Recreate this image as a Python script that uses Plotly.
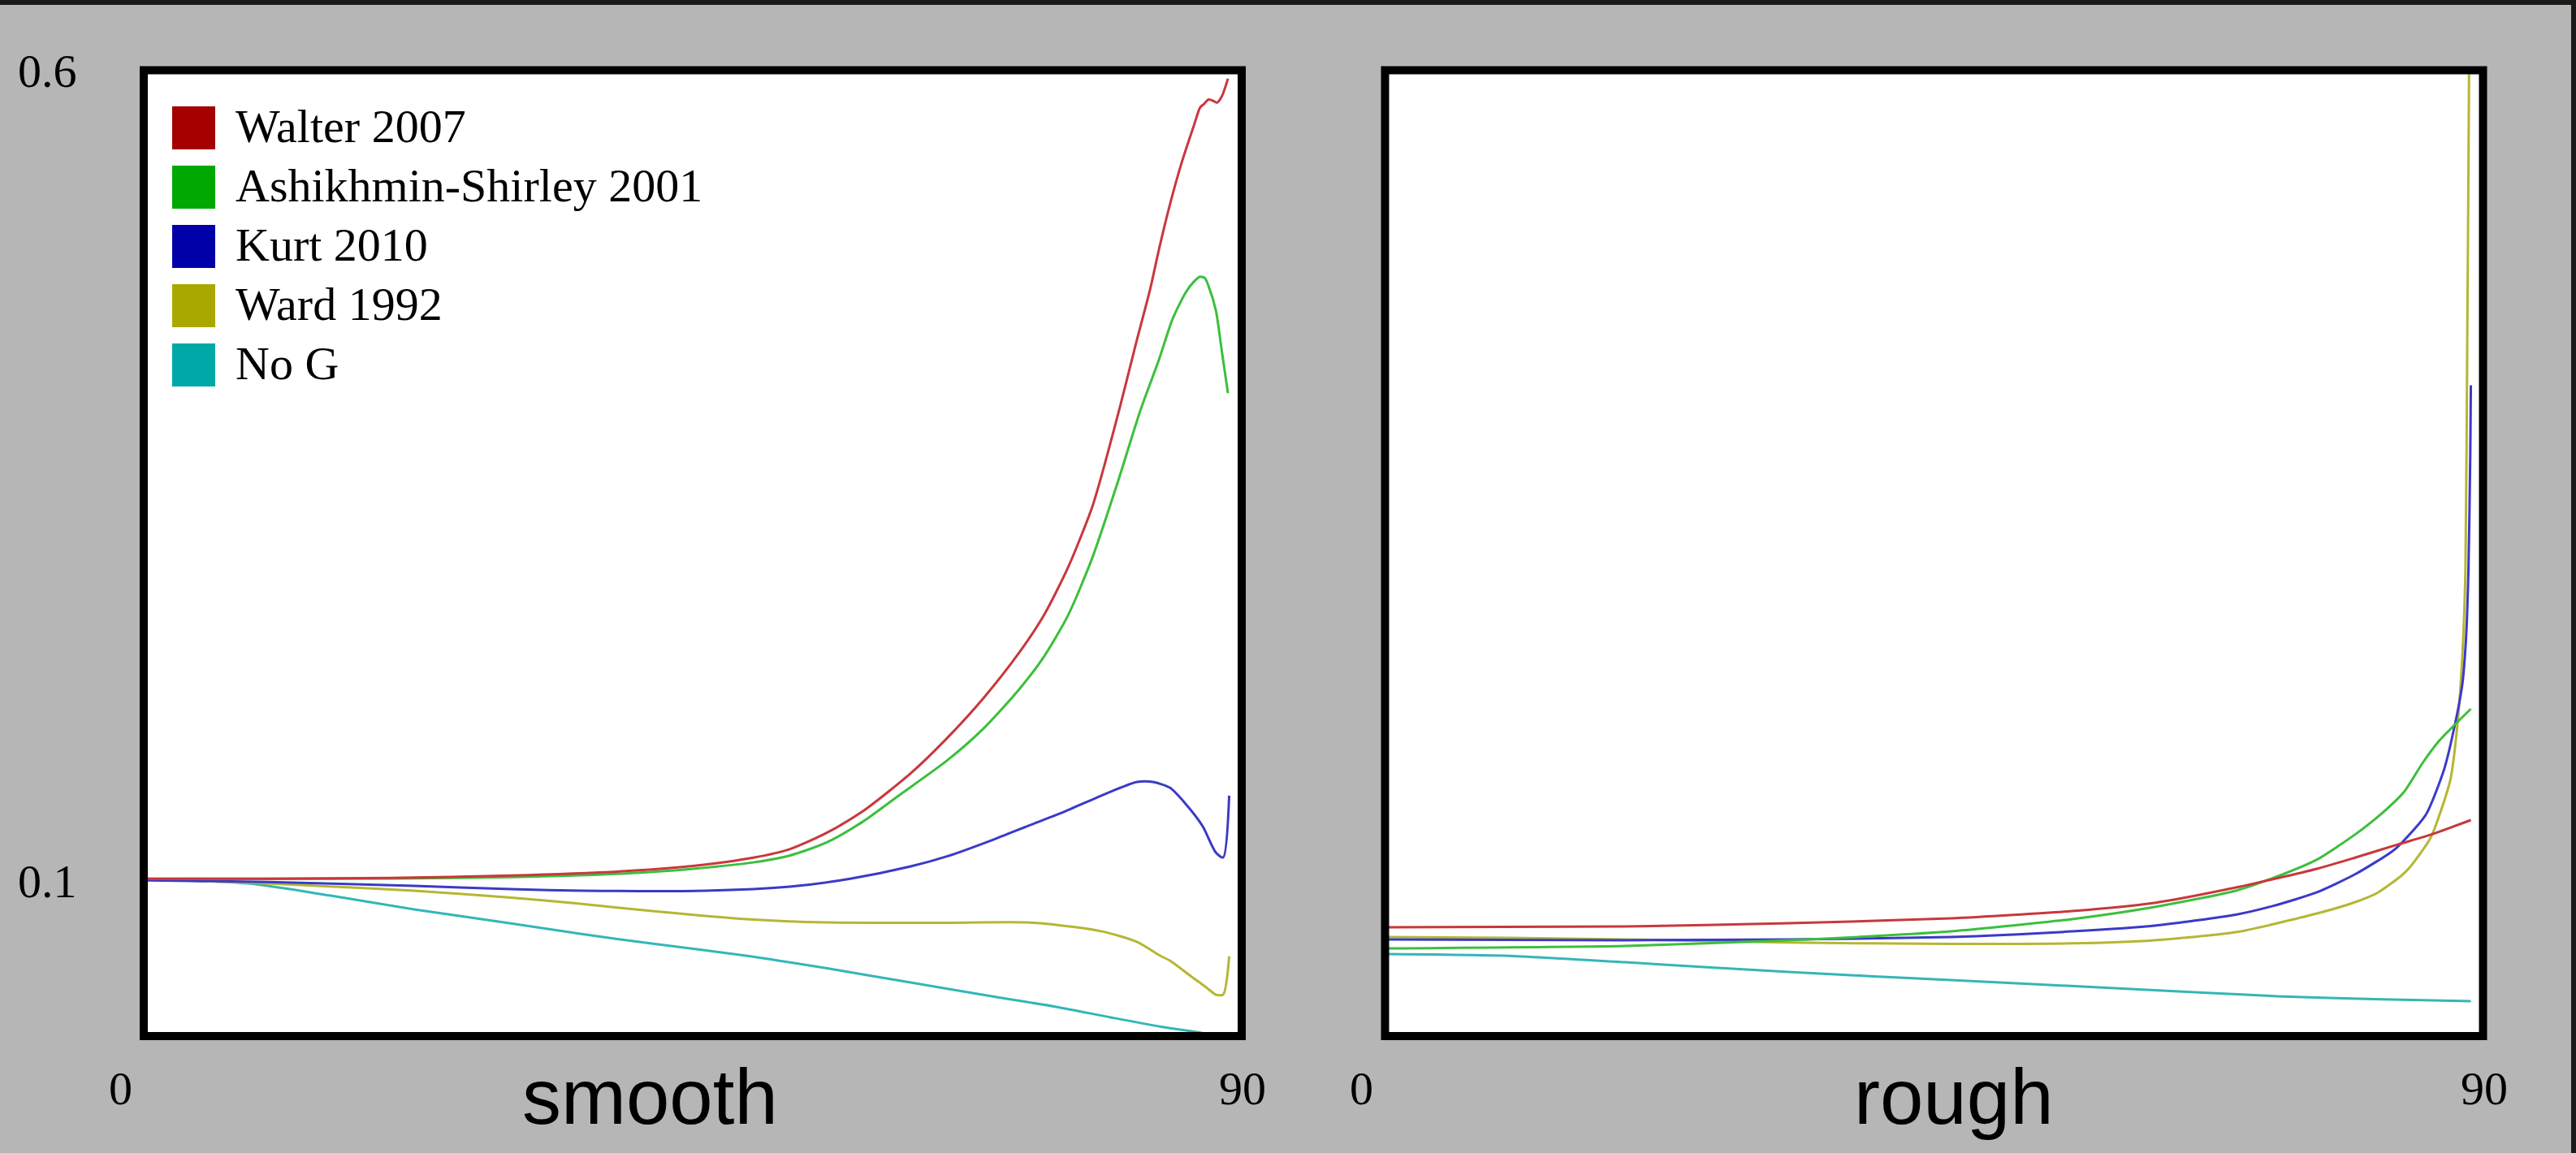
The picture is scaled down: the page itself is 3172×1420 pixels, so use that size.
import plotly.graph_objects as go

# ---------------- data ----------------
series_names = ["Walter 2007", "Ashikhmin-Shirley 2001", "Kurt 2010", "Ward 1992", "No G"]
swatch_colors = ["#a40000", "#00a800", "#0000a8", "#a8a800", "#00a8a8"]
line_colors = ["#c8383c", "#3cbf3c", "#3a3ac8", "#b6b634", "#34b6b6"]
panel_titles = ["smooth", "rough"]
x_tick_labels = ["0", "90"]
y_tick_labels = ["0.6", "0.1"]

# smooth panel
smooth_walter_x = [0, 10, 20, 30, 40, 45, 50, 53, 56, 59, 63, 66, 69, 72, 74, 76, 78, 79, 80.3, 81.7, 82.8, 83.5, 84.4, 85.4, 86.4, 86.9, 87.2, 87.6, 88.0, 88.3, 88.7, 89.2]
smooth_walter_y = [0.096, 0.096, 0.0965, 0.098, 0.101, 0.104, 0.1092, 0.1145, 0.1245, 0.138, 0.162, 0.184, 0.209, 0.238, 0.261, 0.291, 0.329, 0.355, 0.392, 0.434, 0.466, 0.490, 0.518, 0.545, 0.568, 0.579, 0.581, 0.584, 0.583, 0.582, 0.586, 0.597]

smooth_ashikhmin_x = [0, 10, 20, 30, 40, 45, 50, 53, 56, 59, 62, 66, 69, 72, 74, 76, 78, 80, 82, 83.5, 84.6, 85.7, 86.4, 86.9, 87.3, 87.6, 88.2, 88.7, 89.2]
smooth_ashikhmin_y = [0.096, 0.096, 0.0961, 0.097, 0.0995, 0.1022, 0.1062, 0.1105, 0.1185, 0.1315, 0.148, 0.170, 0.190, 0.215, 0.235, 0.261, 0.297, 0.342, 0.390, 0.421, 0.446, 0.463, 0.470, 0.473, 0.472, 0.467, 0.452, 0.426, 0.400]

smooth_kurt_x = [0, 10, 22, 30, 36, 46, 53, 58, 63, 66, 70, 73, 75.7, 79.5, 81.7, 83.0, 84.4, 85.7, 87.1, 88.2, 88.8, 89.3]
smooth_kurt_y = [0.095, 0.094, 0.0915, 0.0895, 0.0885, 0.0885, 0.091, 0.096, 0.1037, 0.110, 0.121, 0.130, 0.138, 0.1505, 0.1566, 0.1566, 0.153, 0.1429, 0.129, 0.1124, 0.1093, 0.148]

smooth_ward_x = [0, 8.3, 15, 22, 30, 35.7, 42, 49.4, 56.2, 65, 72.6, 75, 78.8, 81.7, 83.6, 84.4, 86.2, 87.4, 88.2, 88.8, 89.3]
smooth_ward_y = [0.0956, 0.0936, 0.0912, 0.0885, 0.0842, 0.0803, 0.0755, 0.0707, 0.0686, 0.0684, 0.0686, 0.0671, 0.063, 0.0564, 0.0478, 0.0447, 0.0346, 0.028, 0.0234, 0.0234, 0.0473]

smooth_nog_x = [0, 8.3, 15, 22, 30, 35.7, 42, 49.4, 56, 63, 70, 75, 79.5, 83.9, 86.6, 89.2]
smooth_nog_y = [0.0956, 0.093, 0.0855, 0.0768, 0.068, 0.0615, 0.055, 0.0478, 0.040, 0.031, 0.022, 0.0158, 0.0092, 0.003, 0.0, -0.004]

# rough panel
rough_walter_x = [0, 19.5, 33, 46.4, 56.4, 63.2, 69.9, 76.6, 79.8, 83.3, 86.0, 89.3]
rough_walter_y = [0.0656, 0.0661, 0.0681, 0.0712, 0.0758, 0.0809, 0.0905, 0.1022, 0.1093, 0.1175, 0.1236, 0.1327]

rough_ashikhmin_x = [0, 19.5, 33, 46.4, 56.4, 63.2, 69.9, 73, 76.6, 79.8, 82.0, 83.8, 85.3, 86.7, 88.0, 89.3]
rough_ashikhmin_y = [0.0524, 0.0539, 0.0575, 0.063, 0.0707, 0.0783, 0.0885, 0.0965, 0.1080, 0.1240, 0.1372, 0.1505, 0.1683, 0.1825, 0.1927, 0.2024]

rough_kurt_x = [0, 19.5, 33, 46.4, 56.4, 63.2, 69.9, 73, 76.6, 79.8, 83.1, 85.6, 87.1, 88.0, 88.6, 88.9, 89.1, 89.25, 89.3]
rough_kurt_y = [0.058, 0.0575, 0.058, 0.0595, 0.063, 0.0666, 0.0735, 0.079, 0.0875, 0.0990, 0.1149, 0.1363, 0.1647, 0.1932, 0.2181, 0.2466, 0.2893, 0.361, 0.405]

rough_ward_x = [0, 10, 19.5, 33, 46.4, 56.4, 63.2, 69.9, 76.6, 80, 81.6, 83.5, 84.3, 86.0, 87.6, 88.2, 88.6, 88.85, 89.0, 89.15, 89.3]
rough_ward_y = [0.0595, 0.059, 0.058, 0.056, 0.0552, 0.0555, 0.0575, 0.0625, 0.0742, 0.0820, 0.0872, 0.0975, 0.1035, 0.1220, 0.1577, 0.1932, 0.2359, 0.2893, 0.4322, 0.60, 0.90]

rough_nog_x = [0, 9.5, 19.5, 33, 46.4, 59.9, 73.3, 82, 89.3]
rough_nog_y = [0.0488, 0.0478, 0.0437, 0.0376, 0.0325, 0.0275, 0.0224, 0.0205, 0.0193]

x_range = [0, 90]
y_range = [0, 0.6]

# ---------------- layout helpers ----------------
W, H = 3172, 1420
def px(x):
    return x / W
def py(y):
    return 1 - y / H

SERIF = "Liberation Serif, Times New Roman, serif"
SANS = "Liberation Sans, Arial, sans-serif"

fig = go.Figure()

smooth_series = [(smooth_walter_x, smooth_walter_y), (smooth_ashikhmin_x, smooth_ashikhmin_y),
                 (smooth_kurt_x, smooth_kurt_y), (smooth_ward_x, smooth_ward_y), (smooth_nog_x, smooth_nog_y)]
rough_series = [(rough_walter_x, rough_walter_y), (rough_ashikhmin_x, rough_ashikhmin_y),
                (rough_kurt_x, rough_kurt_y), (rough_ward_x, rough_ward_y), (rough_nog_x, rough_nog_y)]

LW = 3
# draw order: No G first, Walter last (on top)
for i in reversed(range(5)):
    xs, ys = smooth_series[i]
    fig.add_trace(go.Scatter(x=xs, y=ys, mode="lines", name=series_names[i],
                             line=dict(color=line_colors[i], width=LW, shape="spline", smoothing=0.7),
                             xaxis="x", yaxis="y", showlegend=False, hoverinfo="skip"))
for i in reversed(range(5)):
    xs, ys = rough_series[i]
    fig.add_trace(go.Scatter(x=xs, y=ys, mode="lines", name=series_names[i],
                             line=dict(color=line_colors[i], width=LW, shape="spline", smoothing=0.6),
                             xaxis="x2", yaxis="y2", showlegend=False, hoverinfo="skip"))

axis_common = dict(showgrid=False, zeroline=False, showticklabels=False, ticks="", showline=False, fixedrange=True)
fig.update_layout(
    width=W, height=H,
    margin=dict(l=0, r=0, t=0, b=0),
    paper_bgcolor="#b6b6b6",
    plot_bgcolor="#ffffff",
    showlegend=False,
    xaxis=dict(domain=[px(182), px(1524)], range=x_range, anchor="y", **axis_common),
    yaxis=dict(domain=[py(1271), py(91)], range=y_range, anchor="x", **axis_common),
    xaxis2=dict(domain=[px(1710), px(3053)], range=x_range, anchor="y2", **axis_common),
    yaxis2=dict(domain=[py(1271), py(91)], range=y_range, anchor="x2", **axis_common),
)

shapes = []
# panel frames
for (l, r) in [(177, 1529), (1705.5, 3057.5)]:
    shapes.append(dict(type="rect", xref="paper", yref="paper",
                       x0=px(l), x1=px(r), y0=py(1276), y1=py(86.5),
                       line=dict(color="#000000", width=10), fillcolor="rgba(0,0,0,0)", layer="above"))
# dark edge of the screenshot (top and right)
shapes.append(dict(type="rect", xref="paper", yref="paper", x0=0, x1=1, y0=py(6), y1=1,
                   line=dict(width=0), fillcolor="#1b1a17", layer="above"))
shapes.append(dict(type="rect", xref="paper", yref="paper", x0=px(3166), x1=1, y0=0, y1=1,
                   line=dict(width=0), fillcolor="#1b1a17", layer="above"))

annotations = []
# legend (inside the smooth panel)
row_top0, row_step, sw = 131, 73, 53
for i, name in enumerate(series_names):
    top = row_top0 + i * row_step
    shapes.append(dict(type="rect", xref="paper", yref="paper",
                       x0=px(212), x1=px(212 + sw), y0=py(top + sw), y1=py(top),
                       line=dict(width=0), fillcolor=swatch_colors[i], layer="above"))
    annotations.append(dict(text=name, xref="paper", yref="paper", x=px(288), y=py(top + sw / 2 - 2),
                            xanchor="left", yanchor="middle", showarrow=False,
                            font=dict(family=SERIF, size=58, color="#000000")))

# y tick labels (left panel only)
for lab, yv, ys in zip(y_tick_labels, [0.6, 0.1], [4, -11]):
    annotations.append(dict(text=lab, xref="paper", yref="y", x=px(20), y=yv,
                            xanchor="left", yanchor="middle", showarrow=False, yshift=ys,
                            font=dict(family=SERIF, size=58, color="#000000")))

# x tick labels
for xa in ["x", "x2"]:
    for lab, xv, shift in zip(x_tick_labels, x_range, [-50, -25]):
        annotations.append(dict(text=lab, xref=xa, yref="paper", x=xv, y=py(1340),
                                xanchor="left", yanchor="middle", showarrow=False, xshift=shift,
                                font=dict(family=SERIF, size=58, color="#000000")))

# panel titles
for title, cx in zip(panel_titles, [800, 2406]):
    annotations.append(dict(text=title, xref="paper", yref="paper", x=px(cx), y=py(1350),
                            xanchor="center", yanchor="middle", showarrow=False,
                            font=dict(family=SANS, size=96, color="#000000")))

fig.update_layout(shapes=shapes, annotations=annotations)
fig.write_html("out.html")
